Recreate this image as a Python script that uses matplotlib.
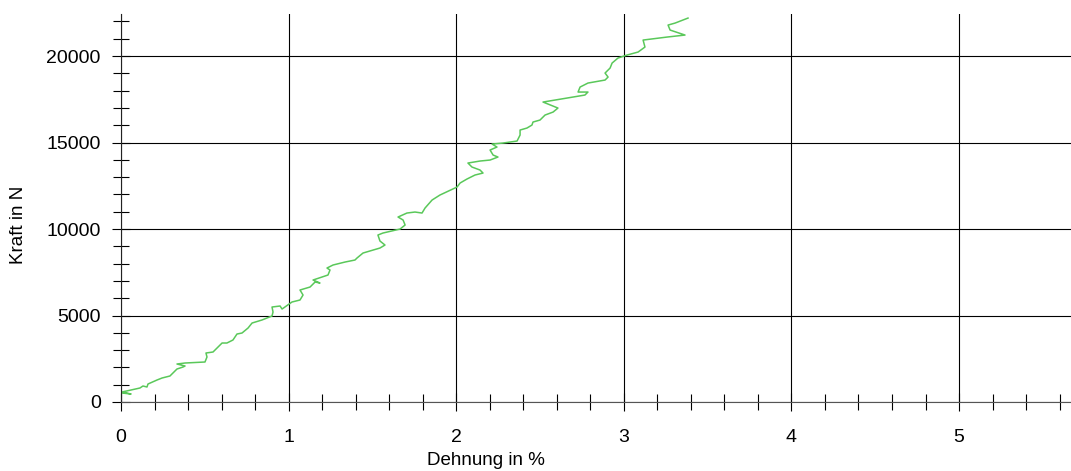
from matplotlib import pyplot as plt
from matplotlib.ticker import MultipleLocator

plt.rcParams['font.family'] = ['Liberation Sans', 'DejaVu Sans']

# Dehnung in %, Kraft in N
dehnung = [0.006, 0.060, 0.006, 0.060, 0.113, 0.131, 0.155, 0.161, 0.215, 0.245,
           0.292, 0.316, 0.334, 0.370, 0.382, 0.334, 0.382, 0.501, 0.513, 0.507,
           0.549, 0.579, 0.603, 0.632, 0.668, 0.692, 0.722, 0.758, 0.782, 0.841,
           0.901, 0.907, 0.901, 0.949, 0.961, 1.020, 1.068, 1.086, 1.068, 1.128,
           1.158, 1.187, 1.146, 1.235, 1.247, 1.229, 1.265, 1.337, 1.396, 1.408,
           1.444, 1.545, 1.575, 1.545, 1.533, 1.563, 1.665, 1.695, 1.683, 1.653,
           1.706, 1.754, 1.796, 1.814, 1.856, 1.903, 2.005, 2.023, 2.064, 2.112,
           2.160, 2.142, 2.094, 2.070, 2.142, 2.202, 2.249, 2.220, 2.202, 2.243,
           2.214, 2.279, 2.363, 2.381, 2.381, 2.422, 2.452, 2.458, 2.500, 2.530,
           2.578, 2.607, 2.518, 2.661, 2.768, 2.786, 2.727, 2.739, 2.786, 2.888,
           2.906, 2.888, 2.918, 2.930, 2.965, 3.019, 3.085, 3.126, 3.115, 3.258,
           3.365, 3.276, 3.264, 3.306, 3.383]
kraft = [520, 462, 578, 694, 809, 925, 867, 1040, 1272, 1387,
         1503, 1734, 1907, 2023, 2081, 2196, 2254, 2312, 2601, 2832,
         2890, 3179, 3410, 3410, 3584, 3930, 3988, 4277, 4566, 4740,
         4971, 5202, 5491, 5549, 5375, 5780, 5896, 6185, 6474, 6647,
         6936, 6878, 7052, 7341, 7630, 7745, 7919, 8092, 8208, 8323,
         8612, 8901, 9075, 9306, 9653, 9768, 9999, 10231, 10520, 10693,
         10924, 10982, 10924, 11213, 11676, 11965, 12427, 12658, 12889, 13121,
         13236, 13410, 13583, 13814, 13930, 13988, 14161, 14277, 14566, 14739,
         14912, 14970, 15086, 15433, 15722, 15837, 16011, 16184, 16300, 16589,
         16762, 16993, 17340, 17571, 17745, 17918, 17918, 18207, 18438, 18612,
         18785, 19016, 19305, 19594, 19883, 20057, 20230, 20519, 20924, 21097,
         21213, 21502, 21791, 21906, 22195]

fig = plt.figure(figsize=(10.71, 4.71), dpi=100)
ax = fig.add_axes([121 / 1071, 69 / 471, 950 / 1071, 388 / 471])

ax.plot(dehnung, kraft, color='#5ac85a', linewidth=1.1)

ax.set_xlim(0, 5.668)
ax.set_ylim(0, 22430)
ax.xaxis.set_major_locator(MultipleLocator(1))
ax.xaxis.set_minor_locator(MultipleLocator(0.2))
ax.yaxis.set_major_locator(MultipleLocator(5000))
ax.yaxis.set_minor_locator(MultipleLocator(1000))

ax.grid(which='major', color='black', linewidth=0.8)
ax.set_axisbelow(True)
for s in ['top', 'right']:
    ax.spines[s].set_visible(False)
ax.spines['left'].set_color('#222222')
ax.spines['bottom'].set_color('#555555')

ax.tick_params(which='both', direction='inout', colors='black', labelsize=14)
ax.tick_params(which='major', length=13, width=0.8)
ax.tick_params(which='minor', length=11, width=0.8)
ax.tick_params(axis='x', pad=13)
ax.tick_params(axis='y', pad=8)

ax.set_xlabel('Dehnung in %', fontsize=13.5)
ax.set_ylabel('Kraft in N', fontsize=13.5)
ax.xaxis.set_label_coords(0.384, -0.152)
ax.yaxis.set_label_coords(-0.108, 0.456)
ax.xaxis.label.set_va('center')
ax.yaxis.label.set_va('center')

fig.savefig('out.png', dpi=100)
